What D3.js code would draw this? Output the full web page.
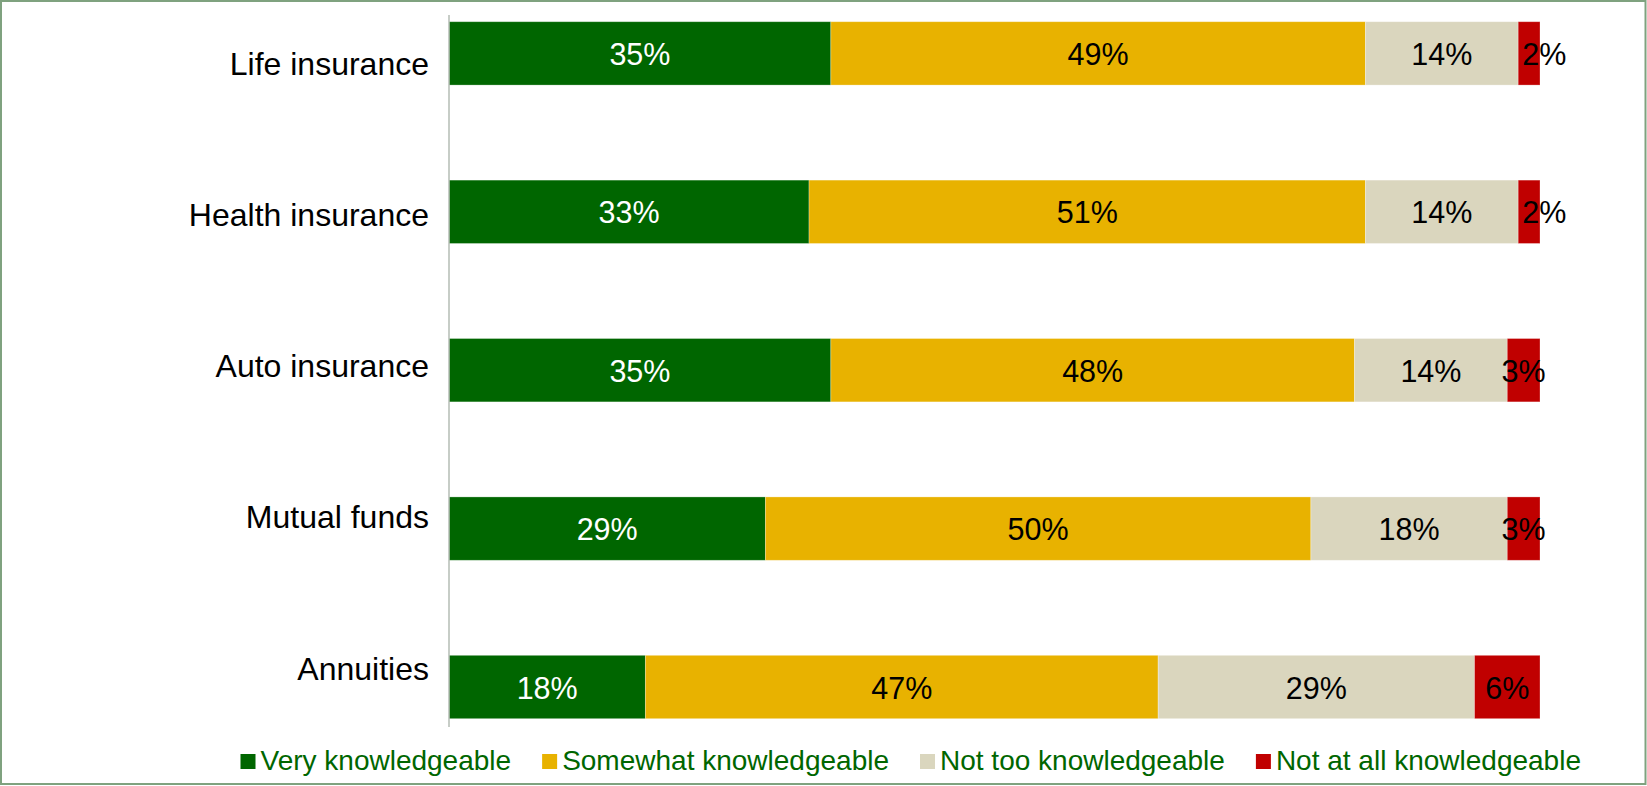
<!DOCTYPE html>
<html>
<head>
<meta charset="utf-8">
<script src="https://cdn.jsdelivr.net/npm/d3@7"></script>
<style>
  body { margin: 0; background: #fff; }
  svg { display: block; font-family: "Liberation Sans", Arial, sans-serif; }
</style>
</head>
<body>
<div id="chart"></div>
<script>
// knowledge of financial products, share of respondents (%)
let categories = ["Life insurance", "Health insurance", "Auto insurance", "Mutual funds", "Annuities"];
let seriesNames = ["Very knowledgeable", "Somewhat knowledgeable", "Not too knowledgeable", "Not at all knowledgeable"];
let veryKnow = [35, 33, 35, 29, 18];
let somewhatKnow = [49, 51, 48, 50, 47];
let notTooKnow = [14, 14, 14, 18, 29];
let notAtAllKnow = [2, 2, 3, 3, 6];
let colors = ["#006600", "#E8B200", "#DAD6BE", "#C00000"];
let labelColors = ["#ffffff", "#000000", "#000000", "#000000"];

let width = 1647;
let height = 786;

let rows = categories.map((c, i) => ({
  category: c,
  [seriesNames[0]]: veryKnow[i],
  [seriesNames[1]]: somewhatKnow[i],
  [seriesNames[2]]: notTooKnow[i],
  [seriesNames[3]]: notAtAllKnow[i]
}));

let stacked = d3.stack().keys(seriesNames)(rows);

let x = d3.scaleLinear()
  .domain([0, 100])
  .range([449, 1540]);

let y = d3.scaleBand()
  .domain(categories)
  .range([-25.8, 766.2])
  .paddingInner(0.6)
  .paddingOuter(0.3);

// category labels sit on their own evenly spaced rows
let yLabel = d3.scalePoint()
  .domain(categories)
  .range([63, 668]);

let color = d3.scaleOrdinal().domain(seriesNames).range(colors);
let textColor = d3.scaleOrdinal().domain(seriesNames).range(labelColors);

const svg = d3.select("#chart").append("svg")
  .attr("width", width)
  .attr("height", height);

svg.append("rect")
  .attr("x", 1).attr("y", 1)
  .attr("width", width - 2.5).attr("height", height - 3)
  .attr("fill", "#fff")
  .attr("stroke", "#7fa27f")
  .attr("stroke-width", 2);

// bars
const series = svg.append("g")
  .selectAll("g")
  .data(stacked)
  .join("g")
  .attr("fill", d => color(d.key));

series.selectAll("rect")
  .data(d => d)
  .join("rect")
  .attr("x", d => x(d[0]))
  .attr("y", d => y(d.data.category))
  .attr("width", d => x(d[1]) - x(d[0]))
  .attr("height", y.bandwidth())
  .attr("stroke", "rgba(255,255,255,0.35)")
  .attr("stroke-width", 0.8);

// value labels
series.selectAll("text")
  .data(d => d.map(v => Object.assign(v, { key: d.key })))
  .join("text")
  .attr("x", d => {
    const w = x(d[1]) - x(d[0]);
    return w < 25 ? x(d[0]) + 4 : (x(d[0]) + x(d[1])) / 2;
  })
  .attr("y", d => y(d.data.category) + y.bandwidth() / 2 + 11.5)
  .attr("text-anchor", d => (x(d[1]) - x(d[0]) < 25 ? "start" : "middle"))
  .attr("fill", d => textColor(d.key))
  .style("font-size", "30.5px")
  .text(d => `${d[1] - d[0]}%`);

// vertical axis line
svg.append("line")
  .attr("x1", x(0)).attr("x2", x(0))
  .attr("y1", 15).attr("y2", 727)
  .attr("stroke", "#b4bdb4")
  .attr("stroke-width", 1.5);

// category labels
svg.append("g")
  .selectAll("text")
  .data(categories)
  .join("text")
  .attr("x", 429)
  .attr("y", d => yLabel(d))
  .attr("dy", "0.36em")
  .attr("text-anchor", "end")
  .attr("fill", "#000")
  .style("font-size", "32px")
  .text(d => d);

// legend
const legend = svg.append("g").attr("transform", "translate(240.5 0)");
let lx = 0;
seriesNames.forEach(name => {
  const item = legend.append("g").attr("transform", `translate(${lx} 0)`);
  item.append("rect")
    .attr("x", 0).attr("y", 754)
    .attr("width", 15).attr("height", 15)
    .attr("fill", color(name));
  const t = item.append("text")
    .attr("x", 20)
    .attr("y", 770)
    .attr("fill", "#006600")
    .style("font-size", "28px")
    .text(name);
  lx += 20 + t.node().getComputedTextLength() + 31;
});
</script>
</body>
</html>
